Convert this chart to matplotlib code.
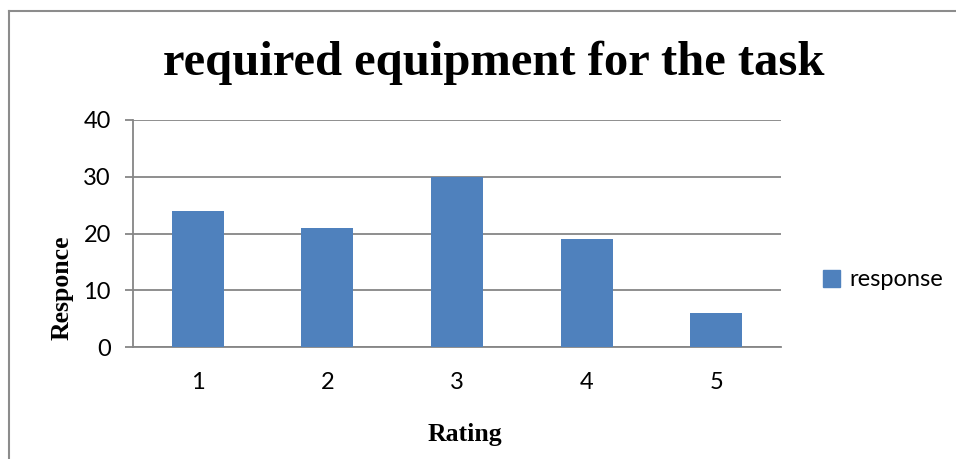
import matplotlib
matplotlib.use('Agg')
import matplotlib.pyplot as plt
from matplotlib.lines import Line2D
from matplotlib.patches import Patch

# Dane
ratings = ['1', '2', '3', '4', '5']
response = [24, 21, 30, 19, 6]
y_ticks = [0, 10, 20, 30, 40]

bar_color = '#4F81BD'
grid_color = '#868686'
serif = ['Liberation Serif', 'DejaVu Serif']
sans = ['Lato', 'DejaVu Sans']

fig = plt.figure(figsize=(9.56, 4.59), dpi=100)
W, H = 956, 459
ax = fig.add_axes([133 / W, 1 - 347 / H, 648 / W, 227 / H])

x = list(range(1, len(ratings) + 1))
ax.bar(x, response, width=0.4, color=bar_color, zorder=3)

ax.set_xlim(0.5, len(ratings) + 0.5)
ax.set_ylim(0, 40)
ax.set_yticks(y_ticks)
ax.set_xticks(x)
ax.set_xticklabels(ratings, fontfamily=sans, fontsize=17)
ax.set_yticklabels([str(v) for v in y_ticks], fontfamily=sans, fontsize=17)

ax.grid(axis='y', color=grid_color, linewidth=1.3, zorder=0)
for s in ['top', 'right']:
    ax.spines[s].set_visible(False)
ax.spines['left'].set_color(grid_color)
ax.spines['bottom'].set_color(grid_color)
ax.spines['left'].set_linewidth(1.3)
ax.spines['bottom'].set_linewidth(1.3)
ax.tick_params(axis='y', length=6, color=grid_color, width=1.3, pad=10)
ax.tick_params(axis='x', length=0, pad=18)

fig.text(494 / W, 1 - 63 / H, 'required equipment for the task', ha='center', va='center',
         fontfamily=serif, fontweight='bold', fontsize=35)
fig.text(62 / W, 1 - 288 / H, 'Responce', ha='center', va='center', rotation=90,
         fontfamily=serif, fontweight='bold', fontsize=18.5)
fig.text(465 / W, 1 - 434 / H, 'Rating', ha='center', va='center',
         fontfamily=serif, fontweight='bold', fontsize=18.5)

leg = fig.legend(handles=[Patch(color=bar_color, label='response')], loc='center left',
                 bbox_to_anchor=(802 / W, 1 - 280 / H), frameon=False,
                 handlelength=0.7, handleheight=0.7, handletextpad=0.4,
                 prop={'family': sans, 'size': 17})

# Ramka wykresu
fig.add_artist(Line2D([9 / W, 9 / W], [0, 1 - 11 / H], color='#8c8c8c', linewidth=1.5))
fig.add_artist(Line2D([9 / W, 1], [1 - 11 / H, 1 - 11 / H], color='#8c8c8c', linewidth=1.5))

fig.savefig('out.png', dpi=100)
